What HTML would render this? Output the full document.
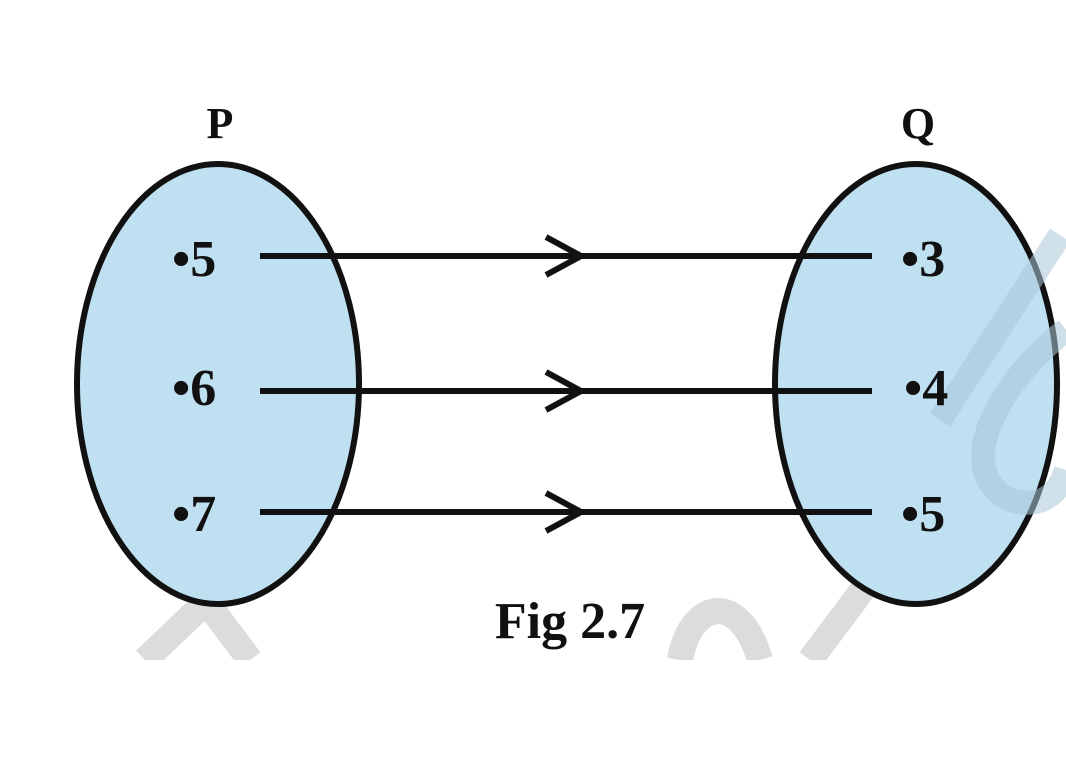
<!DOCTYPE html>
<html><head><meta charset="utf-8"><style>
html,body{margin:0;padding:0;background:#fff;}
svg{display:block;}
text{font-family:"Liberation Serif",serif;font-weight:bold;fill:#111;}
</style></head><body>
<svg width="1066" height="763" viewBox="0 0 1066 763">
<defs><clipPath id="c"><rect x="0" y="0" width="1066" height="660"/></clipPath></defs>
<g clip-path="url(#c)" stroke="#dcdcdc" stroke-width="26" fill="none">
<path d="M145 660 L250 560"/>
<path d="M205 600 L250 660"/>
<path d="M680 660 C690 600 740 590 760 660"/>
<path d="M810 660 L870 580"/>
</g>
<ellipse cx="218" cy="384" rx="141" ry="220" fill="#bfe0f1" stroke="#111" stroke-width="6"/>
<ellipse cx="916" cy="384" rx="141" ry="220" fill="#bfe0f1" stroke="#111" stroke-width="6"/>
<g stroke="#a9c8d8" stroke-width="24" fill="none" opacity="0.55">
<path d="M1060 235 L940 420"/>
<path d="M1066 330 C1000 380 950 470 1010 500 C1045 510 1060 490 1066 470"/>
</g>
<g stroke="#111" stroke-width="6" fill="none">
<line x1="260" y1="256" x2="872" y2="256"/>
<line x1="260" y1="391" x2="872" y2="391"/>
<line x1="260" y1="512" x2="872" y2="512"/>
<polyline points="546,237 581,256 546,275"/>
<polyline points="546,372 581,391 546,410"/>
<polyline points="546,493 581,512 546,531"/>
</g>
<text x="220" y="138" font-size="44" text-anchor="middle">P</text>
<text x="918" y="138" font-size="44" text-anchor="middle">Q</text>
<g font-size="52">
<text x="172" y="276">•5</text>
<text x="172" y="405">•6</text>
<text x="172" y="531">•7</text>
<text x="901" y="276">•3</text>
<text x="904" y="405">•4</text>
<text x="901" y="531">•5</text>
</g>
<text x="570" y="638" font-size="52" text-anchor="middle">Fig 2.7</text>
</svg>
</body></html>
